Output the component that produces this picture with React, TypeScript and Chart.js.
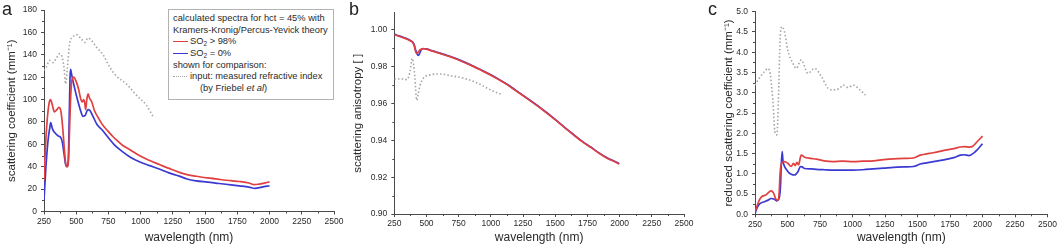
import React, { useEffect, useRef } from "react";
import { Chart, registerables } from "chart.js";

Chart.register(...registerables);

const FONT = "'Liberation Sans', Arial, Helvetica, sans-serif";
const TEXT = "#2a2a2a";
const AXIS = "#4a4a4a";
const RED = "#e0403f";
const BLUE = "#3a3ad2";
const GRAY = "#a5a5a5";

// shared x axis
const xTicks = [250, 500, 750, 1000, 1250, 1500, 1750, 2000, 2250, 2500];
const xMinorTicks = [375, 625, 875, 1125, 1375, 1625, 1875, 2125, 2375];

// ---------- panel a: scattering coefficient ----------
const aYTicks = [0, 20, 40, 60, 80, 100, 120, 140, 160, 180];
const aYMinor = [10, 30, 50, 70, 90, 110, 130, 150, 170];

const aRedWl = [250, 260, 275, 290, 300, 315, 330, 350, 366, 382, 395, 405, 418, 430, 441, 450, 458, 468, 480, 500, 519, 534, 547, 558, 566, 573, 582, 592, 604, 620, 642, 670, 707, 745, 784, 820, 861, 920, 990, 1060, 1145, 1220, 1300, 1360, 1430, 1520, 1610, 1700, 1765, 1840, 1881, 1920, 1960, 2000];
const aRedVal = [28, 55, 82, 97, 100, 95, 89, 91, 93, 89, 75, 60, 43, 40, 48, 80, 105, 118, 120, 116, 109, 101, 98, 100, 97, 91, 100, 105, 101, 98, 90, 84, 77, 72, 67, 63, 59, 55, 50, 46, 42, 38.5, 35, 33, 31.5, 30, 28.7, 27.5, 26.8, 25.5, 24, 24.5, 25.3, 26.5];

const aBlueWl = [250, 265, 280, 295, 302, 315, 333, 360, 380, 392, 405, 418, 428, 438, 446, 452, 456, 465, 488, 514, 534, 552, 570, 590, 604, 630, 660, 700, 759, 800, 861, 920, 990, 1070, 1145, 1220, 1300, 1360, 1430, 1520, 1610, 1700, 1765, 1840, 1888, 1940, 2000];
const aBlueVal = [10, 40, 62, 75, 79.5, 74, 70.5, 67.5, 66, 62, 52, 42, 40, 45, 85, 120, 127, 122, 110, 98, 90, 85, 86, 91, 90.5, 85, 78, 73, 64.6, 59, 53.3, 48.5, 44.4, 41, 37.9, 34.5, 31.6, 29, 27.4, 26.3, 25, 23.8, 22.9, 21.8, 20.6, 21.8, 23];

const aInputWl = [250, 268, 294, 320, 346, 372, 384, 405, 418, 431, 449, 475, 501, 540, 566, 591, 617, 656, 708, 760, 811, 889, 966, 1044, 1100];
const aInputVal = [126, 129, 135, 133, 137, 141, 140, 129, 114, 128, 150, 156, 158, 154, 151, 155, 153, 147, 140, 129, 121, 114, 104, 95, 84];

// ---------- panel b: anisotropy ----------
const bYTicks = [0.9, 0.92, 0.94, 0.96, 0.98, 1.0];
const bYMinor = [0.91, 0.93, 0.95, 0.97, 0.99];

const bRedWl = [250, 285, 320, 350, 372, 393, 405, 412, 418, 426, 434, 442, 452, 476, 500, 528, 570, 606, 670, 736, 800, 866, 930, 996, 1060, 1126, 1190, 1256, 1320, 1386, 1450, 1516, 1580, 1646, 1710, 1776, 1840, 1906, 1960, 1997];
const bRedVal = [0.9976, 0.9966, 0.9958, 0.995, 0.9942, 0.9932, 0.9915, 0.9893, 0.9877, 0.9874, 0.9878, 0.9886, 0.9893, 0.9899, 0.9896, 0.9889, 0.988, 0.9872, 0.9858, 0.9841, 0.9822, 0.9801, 0.9779, 0.9756, 0.9731, 0.9703, 0.9672, 0.964, 0.9608, 0.9575, 0.954, 0.9503, 0.9465, 0.9428, 0.9393, 0.9362, 0.933, 0.9302, 0.9285, 0.9272];

const bBlueWl = [250, 285, 320, 350, 372, 393, 405, 415, 424, 432, 438, 446, 456, 470, 500, 528, 570, 606, 670, 736, 800, 866, 930, 996, 1060, 1126, 1190, 1256, 1320, 1386, 1450, 1516, 1580, 1646, 1710, 1776, 1840, 1906, 1960, 1997];
const bBlueVal = [0.9978, 0.9968, 0.996, 0.9952, 0.9944, 0.9934, 0.9918, 0.9893, 0.9875, 0.9864, 0.9862, 0.9872, 0.9888, 0.9898, 0.9898, 0.9891, 0.9882, 0.9874, 0.986, 0.9843, 0.9824, 0.9803, 0.9781, 0.9758, 0.9733, 0.9705, 0.9674, 0.9642, 0.961, 0.9577, 0.9542, 0.9505, 0.9467, 0.943, 0.9395, 0.9364, 0.9332, 0.9304, 0.9287, 0.9275];

const bInputWl = [250, 290, 330, 350, 372, 390, 400, 410, 424, 435, 448, 476, 528, 606, 684, 788, 866, 930, 970, 1030, 1090];
const bInputVal = [0.9734, 0.9734, 0.9733, 0.973, 0.9774, 0.9846, 0.981, 0.974, 0.9618, 0.965, 0.9695, 0.9738, 0.9756, 0.9761, 0.9752, 0.9738, 0.972, 0.97, 0.9684, 0.9664, 0.9648];

// ---------- panel c: reduced scattering coefficient ----------
const cYTicks = [0, 0.5, 1, 1.5, 2, 2.5, 3, 3.5, 4, 4.5, 5];
const cYMinor = [0.25, 0.75, 1.25, 1.75, 2.25, 2.75, 3.25, 3.75, 4.25, 4.75];

const cRedWl = [250, 265, 283, 300, 335, 355, 374, 392, 412, 430, 437, 443, 456, 477, 502, 528, 546, 559, 572, 585, 600, 606, 631, 680, 722, 780, 850, 920, 1005, 1080, 1160, 1240, 1314, 1400, 1469, 1520, 1570, 1623, 1680, 1727, 1780, 1830, 1860, 1900, 1920, 1958, 2000];
const cRedVal = [0.07, 0.2, 0.35, 0.43, 0.48, 0.54, 0.58, 0.53, 0.37, 0.35, 0.6, 1.01, 1.27, 1.3, 1.26, 1.18, 1.26, 1.2, 1.28, 1.22, 1.42, 1.46, 1.41, 1.38, 1.36, 1.32, 1.3, 1.31, 1.3, 1.31, 1.32, 1.35, 1.37, 1.38, 1.39, 1.46, 1.49, 1.52, 1.56, 1.59, 1.62, 1.66, 1.67, 1.66, 1.67, 1.79, 1.93];

const cBlueWl = [250, 265, 283, 322, 350, 374, 400, 418, 433, 446, 452, 459, 465, 475, 490, 510, 528, 554, 580, 600, 612, 631, 680, 722, 780, 850, 920, 1005, 1080, 1160, 1240, 1314, 1400, 1469, 1520, 1570, 1623, 1680, 1727, 1780, 1830, 1860, 1894, 1946, 2000];
const cBlueVal = [0.02, 0.15, 0.25, 0.31, 0.35, 0.39, 0.37, 0.33, 0.37, 0.68, 1.2, 1.55, 1.32, 1.2, 1.11, 1.03, 0.99, 0.97, 1.05, 1.18, 1.17, 1.13, 1.12, 1.11, 1.1, 1.09, 1.09, 1.09, 1.1, 1.12, 1.14, 1.16, 1.17, 1.18, 1.24, 1.27, 1.3, 1.33, 1.36, 1.4, 1.46, 1.47, 1.45, 1.55, 1.74];

const cInputWl = [250, 283, 322, 348, 366, 387, 405, 418, 430, 443, 456, 477, 502, 541, 567, 606, 657, 708, 760, 812, 850, 902, 927, 966, 1005, 1057, 1100];
const cInputVal = [3.19, 3.36, 3.52, 3.6, 3.48, 2.82, 2.0, 1.96, 2.82, 4.3, 4.63, 4.5, 4.05, 3.73, 3.6, 3.81, 3.48, 3.6, 3.4, 3.11, 3.07, 3.11, 3.19, 3.13, 3.19, 3.07, 2.94];

type Series = { wl: number[]; val: number[]; color: string; dotted?: boolean };
type PanelSpec = {
  left: number;
  width: number;
  series: Series[];
  yMin: number;
  yMax: number;
  yTicks: number[];
  yMinor: number[];
  decimals: number;
  yTitle: string;
  padTop: number;
  padRight: number;
  yAxisWidth: number;
  xAxisHeight: number;
  yTitlePad: number;
};

const pts = (xs: number[], ys: number[]) => xs.map((x, i) => ({ x, y: ys[i] }));

const minorTicksPlugin = {
  id: "minorTicks",
  afterDraw(chart: any, _args: any, opts: any) {
    const { ctx } = chart;
    const xs = chart.scales.x;
    const ys = chart.scales.y;
    ctx.save();
    ctx.strokeStyle = AXIS;
    ctx.lineWidth = 1;
    ctx.beginPath();
    for (const v of opts.xMinor || []) {
      const px = Math.round(xs.getPixelForValue(v)) + 0.5;
      ctx.moveTo(px, xs.top);
      ctx.lineTo(px, xs.top + 2);
    }
    for (const v of opts.yMinor || []) {
      const py = Math.round(ys.getPixelForValue(v)) + 0.5;
      ctx.moveTo(ys.right, py);
      ctx.lineTo(ys.right - 2, py);
    }
    ctx.stroke();
    ctx.restore();
  },
};

function Panel({ spec }: { spec: PanelSpec }) {
  const ref = useRef<HTMLCanvasElement | null>(null);
  useEffect(() => {
    if (!ref.current) return;
    const datasets = spec.series.map((s) => ({
      data: pts(s.wl, s.val),
      borderColor: s.color,
      backgroundColor: s.color,
      borderWidth: s.dotted ? 1.6 : 1.7,
      borderDash: s.dotted ? [1.5, 2.2] : [],
      pointRadius: 0,
      fill: false,
      cubicInterpolationMode: "monotone" as const,
    }));
    const chart = new Chart(ref.current, {
      type: "line",
      data: { datasets },
      plugins: [minorTicksPlugin],
      options: {
        responsive: false,
        animation: false,
        devicePixelRatio: 1,
        layout: { padding: { top: spec.padTop, right: spec.padRight, bottom: 0, left: 0 } },
        plugins: {
          legend: { display: false },
          tooltip: { enabled: false },
          minorTicks: { xMinor: xMinorTicks, yMinor: spec.yMinor },
        } as any,
        scales: {
          x: {
            type: "linear",
            min: 250,
            max: 2500,
            afterBuildTicks: (s: any) => {
              s.ticks = xTicks.map((v) => ({ value: v }));
            },
            afterFit: (s: any) => {
              s.height = spec.xAxisHeight;
            },
            border: { display: true, color: AXIS, width: 1 },
            grid: { display: true, drawOnChartArea: false, drawTicks: true, tickLength: 3, tickColor: AXIS, color: AXIS },
            ticks: {
              autoSkip: false,
              maxRotation: 0,
              padding: 2,
              color: TEXT,
              font: { family: FONT, size: 8.5 },
              callback: (v: any) => String(v),
            },
            title: {
              display: true,
              text: "wavelength (nm)",
              color: TEXT,
              font: { family: FONT, size: 12 },
              padding: { top: 0, bottom: 3 },
            },
          },
          y: {
            type: "linear",
            min: spec.yMin,
            max: spec.yMax,
            afterBuildTicks: (s: any) => {
              s.ticks = spec.yTicks.map((v) => ({ value: v }));
            },
            afterFit: (s: any) => {
              s.width = spec.yAxisWidth;
            },
            border: { display: true, color: AXIS, width: 1 },
            grid: { display: true, drawOnChartArea: false, drawTicks: true, tickLength: 3, tickColor: AXIS, color: AXIS },
            ticks: {
              autoSkip: false,
              padding: 4,
              color: TEXT,
              font: { family: FONT, size: 8.5 },
              callback: (v: any) => Number(v).toFixed(spec.decimals),
            },
            title: {
              display: true,
              text: spec.yTitle,
              color: TEXT,
              font: { family: FONT, size: 11.5 },
              padding: { top: spec.yTitlePad, bottom: 0 },
            },
          },
        },
      },
    });
    return () => chart.destroy();
  }, [spec]);
  return (
    <canvas
      ref={ref}
      width={spec.width}
      height={248}
      style={{ position: "absolute", left: spec.left, top: 0, width: spec.width, height: 248, display: "block" }}
    />
  );
}

const panelA: PanelSpec = {
  left: 0,
  width: 355,
  series: [
    { wl: aInputWl, val: aInputVal, color: GRAY, dotted: true },
    { wl: aRedWl, val: aRedVal, color: RED },
    { wl: aBlueWl, val: aBlueVal, color: BLUE },
  ],
  yMin: 0,
  yMax: 180,
  yTicks: aYTicks,
  yMinor: aYMinor,
  decimals: 0,
  yTitle: "scattering coefficient (mm\u207B\u00B9)",
  padTop: 10,
  padRight: 21,
  yAxisWidth: 44,
  xAxisHeight: 36.5,
  yTitlePad: 5.4,
};

const panelB: PanelSpec = {
  left: 348,
  width: 352,
  series: [
    { wl: bInputWl, val: bInputVal, color: GRAY, dotted: true },
    { wl: bRedWl, val: bRedVal, color: RED },
    { wl: bBlueWl, val: bBlueVal, color: BLUE },
  ],
  yMin: 0.9,
  yMax: 1.0094,
  yTicks: bYTicks,
  yMinor: bYMinor,
  decimals: 2,
  yTitle: "scattering anisotropy [ ]",
  padTop: 12.7,
  padRight: 16,
  yAxisWidth: 46.3,
  xAxisHeight: 34,
  yTitlePad: 3.4,
};

const panelC: PanelSpec = {
  left: 715,
  width: 344,
  series: [
    { wl: cInputWl, val: cInputVal, color: GRAY, dotted: true },
    { wl: cRedWl, val: cRedVal, color: RED },
    { wl: cBlueWl, val: cBlueVal, color: BLUE },
  ],
  yMin: 0,
  yMax: 5,
  yTicks: cYTicks,
  yMinor: cYMinor,
  decimals: 1,
  yTitle: "reduced scattering coefficient (mm\u207B\u00B9)",
  padTop: 11.7,
  padRight: 11.3,
  yAxisWidth: 40,
  xAxisHeight: 33.7,
  yTitlePad: 6.8,
};

const letterStyle = (left: number): React.CSSProperties => ({
  position: "absolute",
  left,
  top: 0,
  fontFamily: FONT,
  fontSize: 18,
  lineHeight: "18px",
  color: "#222",
});

const row: React.CSSProperties = { height: 11.7, lineHeight: "11.7px" };
const sub: React.CSSProperties = { fontSize: 6.5, lineHeight: 0, verticalAlign: "-2px" };

function Legend() {
  return (
    <div
      style={{
        position: "absolute",
        left: 168,
        top: 9,
        width: 166,
        height: 91,
        boxSizing: "border-box",
        border: "1px solid #b3b3b3",
        padding: "3px 0 0 4px",
        fontFamily: FONT,
        fontSize: 9.3,
        color: TEXT,
        whiteSpace: "nowrap",
        background: "#fff",
      }}
    >
      <div style={row}>calculated spectra for hct = 45% with</div>
      <div style={row}>Kramers-Kronig/Percus-Yevick theory</div>
      <div style={row}>
        <span style={{ display: "inline-block", width: 15, height: 0, borderTop: `1.7px solid ${RED}`, verticalAlign: "middle", marginRight: 2 }} />
        SO<sub style={sub}>2</sub> &gt; 98%
      </div>
      <div style={row}>
        <span style={{ display: "inline-block", width: 15, height: 0, borderTop: `1.7px solid ${BLUE}`, verticalAlign: "middle", marginRight: 2 }} />
        SO<sub style={sub}>2</sub> = 0%
      </div>
      <div style={row}>shown for comparison:</div>
      <div style={row}>
        <span style={{ display: "inline-block", width: 14, height: 0, borderTop: `1.6px dotted ${GRAY}`, verticalAlign: "middle", marginRight: 3 }} />
        input: measured refractive index
      </div>
      <div style={{ ...row, paddingLeft: 27 }}>
        (by Friebel <i>et al</i>)
      </div>
    </div>
  );
}

export default function App() {
  return (
    <div style={{ position: "absolute", left: 0, top: 0, width: 1059, height: 248, background: "#fff", overflow: "hidden" }}>
      <Panel spec={panelA} />
      <Panel spec={panelB} />
      <Panel spec={panelC} />
      <Legend />
      <div style={letterStyle(2)}>a</div>
      <div style={letterStyle(349)}>b</div>
      <div style={letterStyle(708)}>c</div>
    </div>
  );
}
